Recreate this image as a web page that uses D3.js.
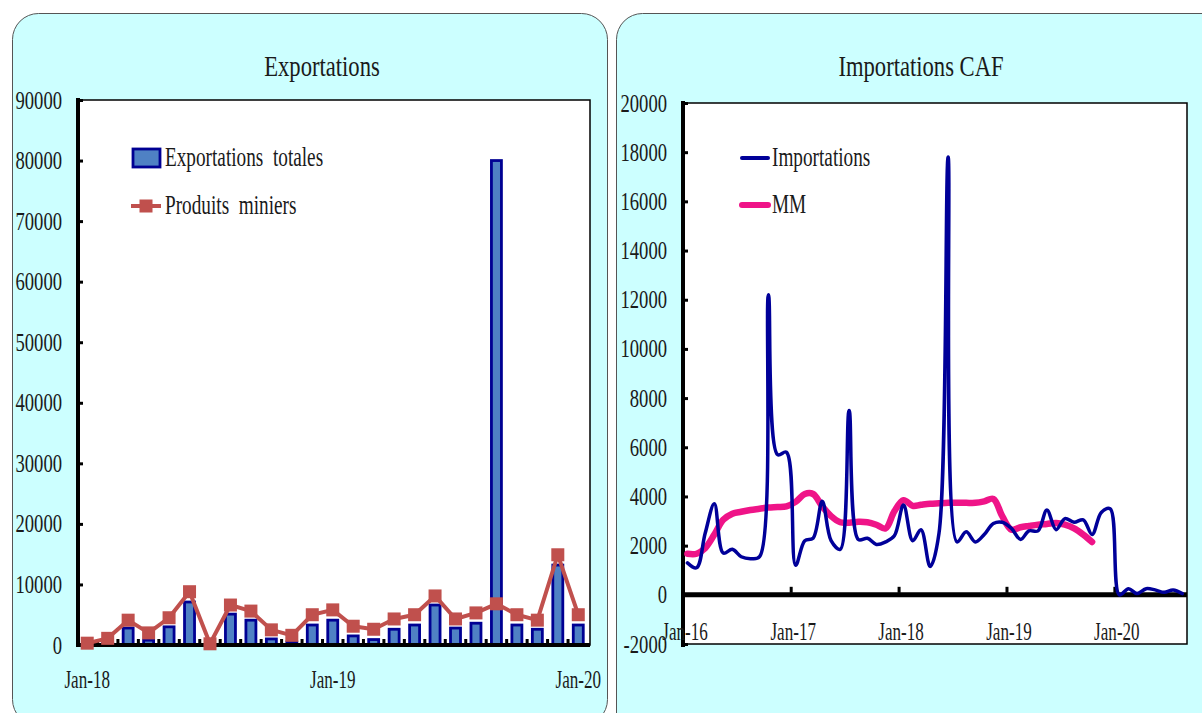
<!DOCTYPE html>
<html><head><meta charset="utf-8">
<script src="https://cdn.jsdelivr.net/npm/d3@7"></script>
<style>
body{margin:0;background:#fff;}
svg text{font-family:"Liberation Serif","Times New Roman",serif;fill:#1a1a1a;white-space:pre;}
</style></head>
<body><svg id="c" width="1202" height="713"></svg>
<script>
// ---------- Data: Exportations (left) ----------
const expMonths = ["Jan-18","Feb-18","Mar-18","Apr-18","May-18","Jun-18","Jul-18","Aug-18","Sep-18","Oct-18","Nov-18","Dec-18",
  "Jan-19","Feb-19","Mar-19","Apr-19","May-19","Jun-19","Jul-19","Aug-19","Sep-19","Oct-19","Nov-19","Dec-19","Jan-20"];
const exportTotales = [0,300,2800,800,3000,7100,0,5100,4100,1000,500,3300,4100,1500,900,2600,3300,6600,2800,3600,80000,3300,2600,13200,3300];
const produitsMiniers = [300,1100,4100,2000,4500,8800,200,6600,5600,2500,1600,5000,5800,3100,2600,4300,5000,8100,4300,5300,6800,5000,4100,14900,5000];
const expYTicks = [0,10000,20000,30000,40000,50000,60000,70000,80000,90000];
const expXLabels = ["Jan-18","Jan-19","Jan-20"];

// ---------- Data: Importations CAF (right) ----------
const impStart = [2016, 0];  // Jan-16, monthly
const importations = [1300,1100,2500,3700,1700,1850,1550,1470,1550,12200,5700,5800,1200,2200,2300,3800,2200,1850,7500,2250,
  2300,2050,2150,2400,3650,2200,2650,1150,2500,17800,2150,2560,2150,2450,2900,2950,2700,2250,2600,2600,
  3450,2650,3100,2950,3050,2450,3350,3500,0,250,50,250,200,100,200,50];
const mm = [1670,1670,1900,2450,3050,3300,3380,3450,3500,3550,3570,3600,3780,4100,4100,3600,3200,2950,2930,2970,
  2950,2850,2700,3400,3850,3620,3660,3700,3720,3740,3740,3740,3740,3800,3900,3200,2650,2750,2800,2850,
  2880,2920,2850,2700,2450,2150,null,null,null,null,null,null,null,null,null,null];
const impYTicks = [-2000,0,2000,4000,6000,8000,10000,12000,14000,16000,18000,20000];
const impXLabels = ["Jan-16","Jan-17","Jan-18","Jan-19","Jan-20"];

const svg = d3.select("#c");
const PANEL = "#ccffff";

// condensed text helper (emulates the narrow Garamond face)
function ctext(sel, x, y, size, sx, anchor) {
  return sel.attr("transform", (d,i)=>`translate(${typeof x==="function"?x(d,i):x},${typeof y==="function"?y(d,i):y}) scale(${sx},1)`)
    .attr("font-size", size).attr("text-anchor", anchor||"start");
}
const T = {size:29, sx:0.78}, LG = {size:27.5, sx:0.70}, YT = {size:24.5, sx:0.76}, XT = {size:25.5, sx:0.67};

// ================= LEFT PANEL =================
svg.append("rect").attr("x",12.5).attr("y",13.5).attr("width",595).attr("height",712).attr("rx",26)
  .attr("fill",PANEL).attr("stroke","#555").attr("stroke-width",1);
ctext(svg.append("text").text("Exportations"), 322, 76, T.size, T.sx, "middle");

const L = {x0:78, x1:590, top:100, bottom:645};
const yL = d3.scaleLinear().domain([0,90000]).range([L.bottom, L.top]);
const xL = d3.scaleBand().domain(expMonths).range([77, 588.5]).padding(0);

svg.append("rect").attr("x",L.x0).attr("y",L.top).attr("width",L.x1-L.x0).attr("height",L.bottom-L.top)
  .attr("fill","#fff").attr("stroke","#000").attr("stroke-width",1.5);

// bars
const bw = 10;
svg.append("g").selectAll("rect").data(exportTotales).join("rect")
  .attr("x",(d,i)=>xL(expMonths[i])+xL.bandwidth()/2-bw/2)
  .attr("y",d=>yL(d)).attr("width",bw).attr("height",d=>Math.max(0,yL(0)-yL(d)))
  .attr("fill","#4f81c4").attr("stroke","#000093").attr("stroke-width",2.8)
  .attr("display",d=>d>0?null:"none");

// x axis (ticks at category boundaries)
svg.append("line").attr("x1",L.x0).attr("x2",L.x1).attr("y1",L.bottom).attr("y2",L.bottom).attr("stroke","#000").attr("stroke-width",4);
svg.append("g").selectAll("rect").data(expMonths.slice(1)).join("rect")
  .attr("x",d=>xL(d)-1.5).attr("y",L.bottom-6).attr("width",3).attr("height",5).attr("fill","#000");
ctext(svg.append("g").selectAll("text").data(expXLabels).join("text").text(d=>d),
  d=>xL(d)+xL.bandwidth()/2, 688, XT.size, XT.sx, "middle");

// y axis
const yAxisL = svg.append("g").attr("transform",`translate(${L.x0},0)`)
  .call(d3.axisRight(yL).tickValues(expYTicks).tickSize(5).tickFormat(""));
yAxisL.select(".domain").remove();
yAxisL.selectAll("line").attr("stroke","#000").attr("stroke-width",3);
svg.append("line").attr("x1",L.x0).attr("x2",L.x0).attr("y1",L.top-2).attr("y2",L.bottom+2).attr("stroke","#000").attr("stroke-width",4);
ctext(svg.append("g").selectAll("text").data(expYTicks).join("text").text(d=>d),
  62, d=>yL(d)+8.5, YT.size, YT.sx, "end");

// produits miniers line
const lineL = d3.line().x((d,i)=>xL(expMonths[i])+xL.bandwidth()/2).y(d=>yL(d));
svg.append("path").datum(produitsMiniers).attr("d",lineL).attr("fill","none").attr("stroke","#c0504d").attr("stroke-width",4).attr("stroke-linejoin","round");
const ms = 13;
svg.append("g").selectAll("rect").data(produitsMiniers).join("rect")
  .attr("x",(d,i)=>xL(expMonths[i])+xL.bandwidth()/2-ms/2).attr("y",d=>yL(d)-ms/2)
  .attr("width",ms).attr("height",ms).attr("fill","#c0504d");

// legend left
svg.append("rect").attr("x",133).attr("y",149).attr("width",27).attr("height",18).attr("fill","#4f81c4").attr("stroke","#000093").attr("stroke-width",2.8);
ctext(svg.append("text").text("Exportations  totales"), 165, 166, LG.size, LG.sx, "start");
svg.append("line").attr("x1",131).attr("x2",161).attr("y1",206).attr("y2",206).attr("stroke","#c0504d").attr("stroke-width",4);
svg.append("rect").attr("x",146-ms/2).attr("y",206-ms/2).attr("width",ms).attr("height",ms).attr("fill","#c0504d");
ctext(svg.append("text").text("Produits  miniers"), 165, 214, LG.size, LG.sx, "start");

// ================= RIGHT PANEL =================
svg.append("rect").attr("x",616.5).attr("y",13.5).attr("width",640).attr("height",740).attr("rx",26)
  .attr("fill",PANEL).attr("stroke","#555").attr("stroke-width",1);
ctext(svg.append("text").text("Importations CAF"), 921, 76, T.size, T.sx, "middle");

const R = {x0:683, x1:1187, top:103, bottom:644};
const yR = d3.scaleLinear().domain([-2000,20000]).range([R.bottom, R.top]);
const xR = d3.scaleTime().domain([new Date(2016,0,1), new Date(2020,8,1)]).range([R.x0, R.x1]);
const dates = importations.map((d,i)=>new Date(impStart[0], impStart[1]+i, 16));
const labelDate = s => { const p = s.split("-"); return new Date(2000+ +p[1], 0, 1); };

svg.append("rect").attr("x",R.x0).attr("y",R.top).attr("width",R.x1-R.x0).attr("height",R.bottom-R.top)
  .attr("fill","#fff").attr("stroke","#000").attr("stroke-width",1.5);

// y axis
const yAxisR = svg.append("g").attr("transform",`translate(${R.x0},0)`)
  .call(d3.axisRight(yR).tickValues(impYTicks).tickSize(5).tickFormat(""));
yAxisR.select(".domain").remove();
yAxisR.selectAll("line").attr("stroke","#000").attr("stroke-width",3);
svg.append("line").attr("x1",R.x0).attr("x2",R.x0).attr("y1",R.top-2).attr("y2",R.bottom+3).attr("stroke","#000").attr("stroke-width",4);
ctext(svg.append("g").selectAll("text").data(impYTicks).join("text").text(d=>d),
  667, d=>yR(d)+8.5, YT.size, YT.sx, "end");

// x axis at zero
svg.append("line").attr("x1",R.x0).attr("x2",R.x1).attr("y1",yR(0)).attr("y2",yR(0)).attr("stroke","#000").attr("stroke-width",5);
svg.append("g").selectAll("rect").data(impXLabels.slice(1)).join("rect")
  .attr("x",d=>xR(labelDate(d))-1.5).attr("y",yR(0)-8).attr("width",3).attr("height",6).attr("fill","#000");
ctext(svg.append("g").selectAll("text").data(impXLabels).join("text").text(d=>d),
  d=>xR(labelDate(d))+2, 640, XT.size, XT.sx, "middle");

// lines
const lineR = d3.line().defined(d=>d!=null).curve(d3.curveCatmullRom.alpha(0.5))
  .x((d,i)=>xR(dates[i])).y(d=>yR(d));
svg.append("path").datum(mm).attr("d",lineR).attr("fill","none").attr("stroke","#ef1488").attr("stroke-width",6.5).attr("stroke-linecap","round").attr("stroke-linejoin","round");
svg.append("path").datum(importations).attr("d",lineR).attr("fill","none").attr("stroke","#000099").attr("stroke-width",3.5).attr("stroke-linecap","round").attr("stroke-linejoin","round");

// legend right
svg.append("line").attr("x1",742).attr("x2",768).attr("y1",158).attr("y2",158).attr("stroke","#000099").attr("stroke-width",4).attr("stroke-linecap","round");
ctext(svg.append("text").text("Importations"), 772, 166, LG.size, LG.sx, "start");
svg.append("line").attr("x1",742).attr("x2",768).attr("y1",205).attr("y2",205).attr("stroke","#ef1488").attr("stroke-width",6).attr("stroke-linecap","round");
ctext(svg.append("text").text("MM"), 772, 213, LG.size, LG.sx, "start");
</script></body></html>
